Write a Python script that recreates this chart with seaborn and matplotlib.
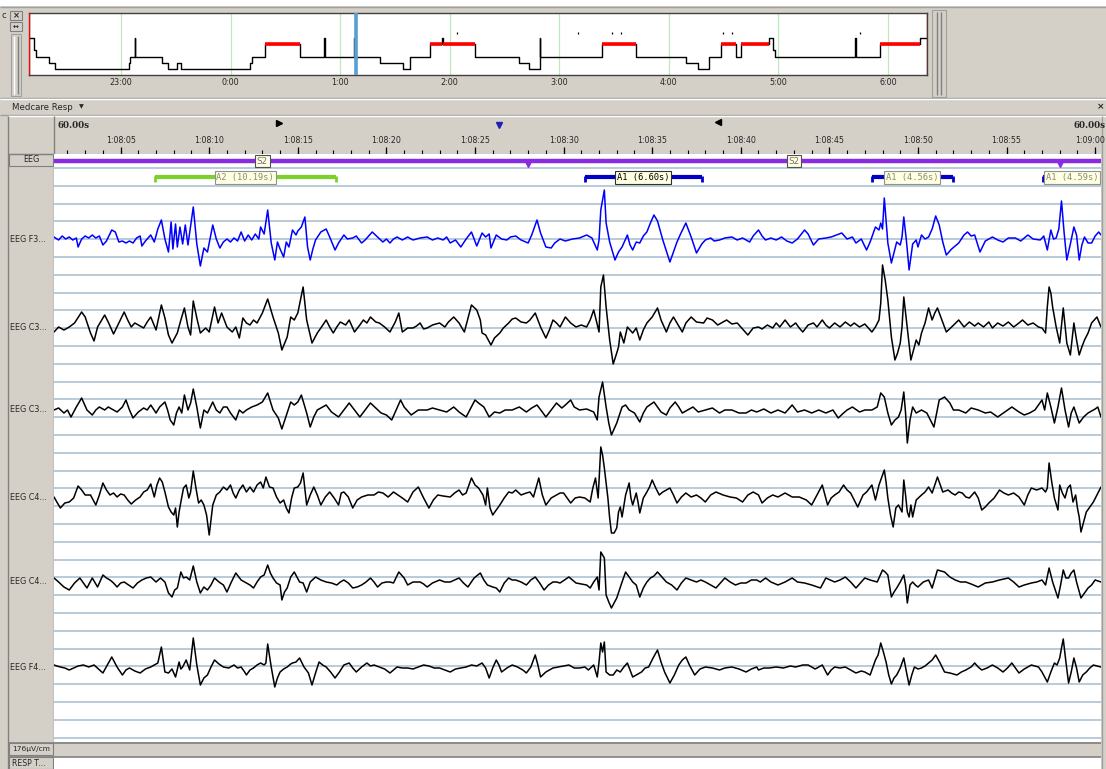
import numpy as np
import matplotlib
matplotlib.use("Agg")
import matplotlib.pyplot as plt
from matplotlib.patches import Rectangle
import seaborn as sns

sns.set_theme(style="white")
plt.rcParams['font.family'] = ['DejaVu Sans']

# ---------------- data ----------------
# hypnogram overview (hours after 22:00) and stage reached at that time
hyp_hours = [0.159, 0.21, 0.225, 0.344, 0.401, 1.073, 1.085, 1.125, 1.132, 1.374, 1.426, 1.513,
             1.545, 2.175, 2.2, 2.319, 2.633, 2.855, 2.862, 3.127, 3.134, 3.36, 3.578, 3.641,
             3.818, 3.933, 3.94, 4.234, 4.634, 4.723, 4.82, 4.827, 5.393, 5.697, 6.16, 6.266,
             6.364, 6.477, 6.613, 6.655, 6.91, 6.953, 6.967, 7.70, 7.707, 7.923, 8.296, 8.356]
hyp_stages = ['W', 'N1', 'N2', 'N3', 'N4', 'N3', 'N2', 'W', 'N2', 'N3', 'N4', 'N3',
              'N4', 'N3', 'N2', 'REM', 'N2', 'W', 'N2', 'W', 'N2', 'N3', 'N4', 'N2',
              'REM', 'W', 'REM', 'N2', 'N3', 'N4', 'W', 'N2', 'REM', 'N2', 'N3', 'N4',
              'N2', 'REM', 'N2', 'REM', 'W', 'N1', 'N2', 'W', 'N2', 'REM', 'W', 'W']
stage_level = {'W': 5, 'REM': 4, 'N1': 3, 'N2': 2, 'N3': 1, 'N4': 0}
hour_ticks = [1, 2, 3, 4, 5, 6, 7, 8]
hour_labels = ["23:00", "0:00", "1:00", "2:00", "3:00", "4:00", "5:00", "6:00"]
event_marks_h = [4.064, 5.167, 5.48, 5.562, 6.49, 6.575, 7.748]
cursor_h = 3.145

# page time axis (seconds after 1:08:00)
time_ticks = [5, 10, 15, 20, 25, 30, 35, 40, 45, 50, 55, 60]
time_labels = ["1:08:05", "1:08:10", "1:08:15", "1:08:20", "1:08:25", "1:08:30",
               "1:08:35", "1:08:40", "1:08:45", "1:08:50", "1:08:55", "1:09:00"]
epoch_stage = ["S2", "S2"]
epoch_start = [-2, 28]
epoch_len = 30
arousal_names = ["A2", "A1", "A1", "A1"]
arousal_start = [6.94, 31.2, 47.4, 57.05]
arousal_dur = [10.19, 6.60, 4.56, 4.59]
arousal_selected = [False, True, False, False]

channels = ["EEG F3...", "EEG C3...", "EEG C3...", "EEG C4...", "EEG C4...", "EEG F4..."]

# traces: (seconds, deflection up in screen px)
F3 = [(1.24,2),(1.5,-1),(1.7,3),(1.9,0),(2.1,2),(2.3,-1),(2.5,1),(2.6,-8),(2.8,0),(3.0,3),(3.2,1),(3.4,4),(3.6,1),(3.8,3),(4.0,-6),(4.2,-2),(4.5,9),(4.7,7),(4.9,-3),(5.1,-2),(5.3,-4),(5.5,-2),(5.7,-4),(5.9,1),(6.1,3),(6.2,-7),(6.4,-2),(6.6,2),(6.7,4),(6.9,-3),(7.1,10),(7.3,19),(7.5,0),(7.7,-13),(7.85,17),(7.95,-10),(8.1,15),(8.2,-8),(8.35,12),(8.5,-5),(8.65,14),(8.8,-6),(9.1,32),(9.3,-5),(9.5,-27),(9.7,-9),(9.9,-13),(10.2,14),(10.4,0),(10.6,-9),(10.8,-3),(11.0,0),(11.2,-3),(11.4,1),(11.6,-2),(11.8,7),(12.0,-2),(12.2,4),(12.4,-1),(12.6,5),(12.8,0),(12.9,12),(13.1,5),(13.3,29),(13.5,-4),(13.7,-21),(13.85,-3),(14.0,-10),(14.2,-18),(14.35,-3),(14.5,-8),(14.7,9),(14.9,4),(15.0,8),(15.2,12),(15.4,22),(15.55,-8),(15.7,-21),(15.85,-10),(16.0,-1),(16.3,7),(16.6,10),(16.8,2),(17.1,-11),(17.3,-4),(17.6,4),(17.8,0),(18.1,1),(18.3,3),(18.6,-4),(18.8,-1),(19.2,7),(19.5,2),(19.8,-3),(20.0,0),(20.2,-4),(20.4,0),(20.6,2),(20.9,-1),(21.2,2),(21.5,-1),(21.9,1),(22.3,2),(22.6,-1),(22.9,1),(23.2,-1),(23.4,2),(23.6,-4),(23.9,-1),(24.2,-8),(24.5,0),(24.8,7),(25.1,-7),(25.4,6),(25.6,2),(25.8,5),(25.9,-9),(26.2,4),(26.5,0),(26.8,-1),(27.0,2),(27.3,3),(27.6,-1),(28.0,-4),(28.2,4),(28.5,19),(28.7,6),(29.0,-8),(29.3,-9),(29.5,-4),(29.8,0),(30.1,-2),(30.5,0),(30.9,1),(31.3,4),(31.6,1),(31.9,-11),(32.0,-1),(32.1,29),(32.3,49),(32.4,16),(32.6,-3),(32.9,-21),(33.1,-13),(33.3,-8),(33.6,4),(33.75,-6),(33.9,-11),(34.1,-3),(34.3,-4),(34.5,3),(34.7,7),(34.9,16),(35.1,24),(35.3,18),(35.6,-1),(36.0,-23),(36.2,-13),(36.4,-3),(36.6,5),(36.9,16),(37.2,2),(37.5,-14),(37.8,-5),(38.0,-1),(38.3,1),(38.5,-2),(38.8,-1),(39.1,1),(39.5,2),(39.8,-1),(40.1,1),(40.5,-3),(40.7,3),(41.0,9),(41.2,3),(41.4,-1),(41.7,1),(42.0,-1),(42.3,2),(42.6,-2),(42.9,-4),(43.2,0),(43.6,9),(43.8,5),(44.1,-6),(44.4,0),(44.8,1),(45.1,2),(45.4,4),(45.7,6),(46.0,0),(46.3,2),(46.5,-4),(46.8,0),(47.1,-11),(47.3,-3),(47.6,12),(47.8,9),(47.9,16),(48.0,10),(48.1,41),(48.3,-4),(48.5,-24),(48.7,-10),(48.8,-3),(49.0,-6),(49.1,2),(49.2,22),(49.35,-2),(49.5,-31),(49.7,-5),(49.9,-1),(50.0,-8),(50.2,4),(50.4,0),(50.6,2),(50.8,10),(51.0,23),(51.2,14),(51.4,-3),(51.6,-16),(51.9,-10),(52.3,-4),(52.6,4),(52.8,7),(53.0,3),(53.2,4),(53.5,-13),(53.8,-2),(54.2,2),(54.5,-1),(54.8,-3),(55.1,1),(55.5,1),(55.8,-2),(56.2,4),(56.5,0),(56.9,-1),(57.1,3),(57.3,-11),(57.5,9),(57.65,0),(57.8,1),(57.95,10),(58.1,38),(58.25,6),(58.4,-21),(58.6,-5),(58.8,12),(58.95,4),(59.1,-21),(59.25,-6),(59.4,2),(59.6,-4),(59.8,-4),(60.0,3),(60.2,7),(60.33,4)]

C3A = [(1.24,-4),(1.5,1),(1.8,-2),(2.1,1),(2.4,5),(2.8,16),(3.0,11),(3.3,-5),(3.5,-13),(3.7,1),(4.1,13),(4.3,6),(4.6,-6),(4.9,5),(5.2,16),(5.4,8),(5.6,1),(5.8,5),(6.0,3),(6.3,0),(6.5,6),(6.7,11),(7.0,-2),(7.3,23),(7.5,10),(7.7,-7),(7.9,-15),(8.2,-5),(8.4,8),(8.6,20),(8.8,1),(8.95,-7),(9.1,27),(9.3,10),(9.5,-5),(9.8,0),(10.0,-4),(10.3,21),(10.5,5),(10.7,15),(11.0,1),(11.3,-4),(11.5,1),(11.7,-10),(11.9,10),(12.1,5),(12.3,3),(12.5,8),(12.7,5),(13.0,15),(13.3,29),(13.6,11),(13.9,-5),(14.1,-22),(14.4,-9),(14.6,11),(14.8,8),(15.0,15),(15.3,41),(15.5,8),(15.8,-15),(16.1,-5),(16.3,0),(16.6,8),(16.8,1),(17.0,-5),(17.2,1),(17.4,6),(17.7,3),(17.9,8),(18.2,-4),(18.5,3),(18.7,8),(18.9,5),(19.1,11),(19.4,6),(19.6,5),(19.9,1),(20.2,-4),(20.5,6),(20.7,15),(20.9,-4),(21.2,0),(21.5,0),(21.7,2),(21.9,5),(22.1,-1),(22.3,0),(22.6,3),(23.0,5),(23.3,1),(23.5,6),(23.8,11),(24.1,5),(24.4,-4),(24.8,23),(25.1,18),(25.3,8),(25.4,-5),(25.6,-7),(25.9,-17),(26.1,-10),(26.4,-5),(26.6,0),(26.9,5),(27.1,9),(27.3,10),(27.6,6),(27.9,5),(28.1,8),(28.4,15),(28.7,1),(29.0,-10),(29.2,-2),(29.4,8),(29.6,5),(29.8,1),(30.1,11),(30.4,5),(30.7,1),(31.0,3),(31.3,1),(31.5,8),(31.7,18),(32.0,-4),(32.1,41),(32.25,53),(32.4,21),(32.6,-12),(32.8,-36),(33.0,-25),(33.1,-19),(33.2,-4),(33.4,-15),(33.6,1),(33.9,-5),(34.1,0),(34.3,-12),(34.5,-2),(34.7,5),(35.0,11),(35.3,20),(35.5,8),(35.8,-4),(36.0,5),(36.2,11),(36.4,5),(36.7,-4),(36.9,5),(37.2,11),(37.5,6),(37.9,5),(38.1,10),(38.4,8),(38.7,3),(39.0,6),(39.2,8),(39.5,4),(39.8,5),(40.0,1),(40.2,-3),(40.4,-7),(40.7,0),(41.0,1),(41.2,-1),(41.5,3),(41.8,0),(42.0,5),(42.2,1),(42.5,8),(42.8,1),(43.1,5),(43.3,0),(43.5,-4),(43.8,3),(44.1,5),(44.3,1),(44.6,8),(44.8,3),(45.0,0),(45.3,5),(45.6,1),(45.9,6),(46.2,2),(46.4,5),(46.7,1),(47.0,4),(47.2,0),(47.4,-4),(47.6,1),(47.8,8),(47.9,25),(48.0,63),(48.15,48),(48.3,28),(48.5,-9),(48.7,-32),(48.85,-25),(49.0,-15),(49.1,1),(49.2,31),(49.3,15),(49.4,-2),(49.6,-32),(49.75,-22),(49.9,-12),(50.05,-17),(50.2,-5),(50.4,5),(50.6,20),(50.8,8),(50.95,15),(51.1,20),(51.35,8),(51.6,-4),(51.9,1),(52.3,8),(52.6,1),(52.9,6),(53.2,2),(53.4,5),(53.7,1),(54.0,6),(54.2,0),(54.5,5),(54.8,2),(55.1,6),(55.4,1),(55.7,5),(55.9,8),(56.2,3),(56.5,5),(56.8,1),(57.0,0),(57.2,-5),(57.3,21),(57.4,41),(57.5,35),(57.6,21),(57.8,1),(58.0,-15),(58.2,20),(58.4,-15),(58.6,-27),(58.8,5),(58.95,-12),(59.1,-27),(59.25,-19),(59.4,-12),(59.6,-5),(59.8,5),(60.1,11),(60.33,1)]

C3B = [(1.24,0),(1.5,2),(1.8,-3),(2.0,0),(2.2,-7),(2.5,3),(2.8,12),(3.1,0),(3.4,-5),(3.6,0),(3.8,3),(4.1,0),(4.3,3),(4.6,0),(4.8,-2),(5.1,3),(5.3,10),(5.5,0),(5.7,-8),(6.0,-2),(6.3,2),(6.5,0),(6.7,5),(7.0,-3),(7.2,3),(7.5,8),(7.65,0),(7.8,-10),(8.0,-15),(8.15,-3),(8.3,3),(8.45,-3),(8.6,15),(8.8,0),(8.95,7),(9.1,21),(9.3,3),(9.5,-18),(9.7,0),(9.9,-3),(10.2,8),(10.4,0),(10.6,-3),(10.8,3),(11.0,3),(11.2,-3),(11.5,-10),(11.7,0),(11.9,-3),(12.1,0),(12.4,3),(12.7,5),(13.0,8),(13.3,17),(13.6,0),(13.9,-8),(14.1,-19),(14.4,-3),(14.6,8),(14.8,5),(15.0,8),(15.2,15),(15.5,-3),(15.7,-17),(15.9,-7),(16.1,0),(16.4,3),(16.6,5),(16.9,-2),(17.3,-7),(17.6,0),(17.9,7),(18.2,0),(18.5,-7),(18.8,0),(19.1,7),(19.4,2),(19.7,-3),(20.0,-5),(20.3,-10),(20.55,0),(20.8,10),(21.0,3),(21.4,-5),(21.8,0),(22.3,0),(22.6,2),(23.0,0),(23.4,-2),(23.8,3),(24.1,-2),(24.5,-7),(25.0,10),(25.2,7),(25.5,3),(25.8,-7),(26.1,-2),(26.4,-3),(26.7,0),(27.1,0),(27.5,3),(27.9,-2),(28.2,2),(28.5,5),(28.8,-2),(29.0,-7),(29.3,0),(29.6,7),(29.9,2),(30.1,5),(30.4,10),(30.6,3),(30.9,0),(31.3,1),(31.7,-2),(31.9,-10),(32.0,13),(32.2,28),(32.4,3),(32.55,-13),(32.7,-25),(33.0,-13),(33.3,3),(33.5,5),(33.7,0),(34.0,-3),(34.3,-12),(34.5,-3),(34.7,3),(35.1,8),(35.3,3),(35.5,-2),(35.8,-5),(36.0,2),(36.3,8),(36.5,3),(36.7,-3),(37.0,0),(37.3,3),(37.6,-2),(38.0,0),(38.4,2),(38.8,-3),(39.1,0),(39.5,0),(39.9,-3),(40.3,-3),(40.6,0),(40.9,-2),(41.3,1),(41.7,-3),(42.1,0),(42.5,-3),(42.9,5),(43.2,-2),(43.6,0),(44.0,-3),(44.4,0),(44.8,-3),(45.2,0),(45.5,-8),(45.8,-3),(46.0,0),(46.3,3),(46.7,-2),(47.0,0),(47.4,0),(47.7,3),(47.9,17),(48.1,13),(48.3,-3),(48.5,-15),(48.7,-10),(48.9,-7),(49.05,0),(49.2,18),(49.3,-3),(49.4,-33),(49.55,-10),(49.7,3),(49.9,-3),(50.2,0),(50.5,-3),(50.7,-10),(50.9,-17),(51.2,10),(51.5,13),(51.8,7),(52.0,0),(52.3,0),(52.7,-3),(53.0,2),(53.4,0),(53.8,-3),(54.1,-2),(54.5,-7),(54.9,-2),(55.3,3),(55.7,-2),(56.0,-5),(56.3,-3),(56.6,0),(57.0,10),(57.15,0),(57.3,17),(57.5,3),(57.7,-13),(57.9,3),(58.1,22),(58.3,0),(58.5,-17),(58.65,-3),(58.8,3),(59.1,-13),(59.35,-7),(59.6,-3),(60.0,1),(60.15,3),(60.33,-7)]

C4A = [(1.24,0),(1.4,-5),(1.6,-11),(1.85,-6),(2.1,-5),(2.35,-1),(2.6,11),(2.8,7),(3.0,2),(3.3,2),(3.45,-3),(3.6,-8),(3.8,2),(4.0,14),(4.2,7),(4.4,2),(4.6,4),(4.8,0),(5.0,3),(5.2,2),(5.4,-3),(5.6,-7),(5.85,-3),(6.1,0),(6.3,5),(6.5,7),(6.7,13),(6.9,0),(7.05,12),(7.2,19),(7.35,15),(7.5,5),(7.7,-10),(7.85,-15),(8.0,-18),(8.1,-11),(8.2,-30),(8.3,-15),(8.4,-5),(8.55,9),(8.7,12),(8.85,-1),(8.95,5),(9.1,26),(9.25,9),(9.4,-6),(9.55,-3),(9.7,-8),(9.85,-18),(10.0,-38),(10.1,-23),(10.2,-8),(10.4,2),(10.6,5),(10.8,10),(11.0,7),(11.2,12),(11.35,4),(11.5,-1),(11.7,7),(11.9,12),(12.1,5),(12.3,10),(12.5,5),(12.7,12),(12.9,15),(13.05,9),(13.2,20),(13.4,10),(13.6,9),(13.8,0),(14.0,-6),(14.2,-3),(14.35,-11),(14.5,-16),(14.65,-1),(14.8,9),(15.0,10),(15.15,14),(15.3,24),(15.5,-8),(15.7,2),(15.9,10),(16.1,2),(16.3,-8),(16.55,0),(16.8,5),(17.05,-1),(17.3,-8),(17.45,4),(17.6,5),(17.85,0),(18.1,-11),(18.35,-3),(18.6,0),(18.95,2),(19.3,2),(19.55,5),(19.8,4),(20.1,0),(20.4,5),(20.65,2),(20.9,-1),(21.2,-5),(21.5,5),(21.8,10),(22.1,-1),(22.4,-11),(22.65,-3),(22.9,2),(23.2,1),(23.6,0),(23.85,4),(24.1,7),(24.3,2),(24.5,4),(24.8,19),(25.0,12),(25.2,9),(25.45,2),(25.6,-8),(25.7,9),(25.85,-11),(26.0,-18),(26.2,-13),(26.4,-8),(26.65,-1),(26.9,5),(27.1,4),(27.3,7),(27.6,2),(27.9,4),(28.1,5),(28.3,0),(28.6,19),(28.8,2),(29.0,-8),(29.3,-1),(29.6,2),(29.8,4),(30.0,4),(30.2,-1),(30.4,-6),(30.65,-1),(30.9,0),(31.2,-1),(31.5,-5),(31.65,9),(31.8,19),(31.95,-1),(32.1,50),(32.2,42),(32.3,29),(32.5,-1),(32.6,-21),(32.7,-36),(32.85,-36),(33.0,-31),(33.1,-15),(33.2,-10),(33.3,-20),(33.5,2),(33.7,14),(33.8,-1),(33.9,-8),(34.1,4),(34.2,-5),(34.3,-16),(34.5,-1),(34.7,5),(34.85,10),(35.0,17),(35.2,9),(35.4,2),(35.6,5),(35.8,7),(36.0,9),(36.2,2),(36.4,-6),(36.65,0),(36.9,4),(37.2,0),(37.5,2),(37.75,-1),(38.0,-5),(38.3,2),(38.6,5),(39.0,2),(39.4,0),(39.75,-1),(40.1,-5),(40.4,2),(40.7,5),(41.0,2),(41.2,-6),(41.5,-1),(41.8,2),(42.1,0),(42.5,4),(42.9,0),(43.3,0),(43.7,-3),(44.0,-8),(44.3,2),(44.6,12),(44.9,-8),(45.1,-1),(45.3,2),(45.55,5),(45.8,12),(46.0,7),(46.2,4),(46.6,-10),(46.9,2),(47.1,5),(47.4,12),(47.6,-3),(47.8,12),(47.9,17),(48.1,27),(48.2,15),(48.3,-1),(48.45,-18),(48.6,-30),(48.75,-11),(48.9,-8),(49.1,-15),(49.2,17),(49.3,2),(49.4,-15),(49.5,-20),(49.6,-8),(49.7,-20),(49.9,-3),(50.2,2),(50.4,5),(50.6,10),(50.8,4),(51.1,20),(51.4,5),(51.7,7),(51.9,4),(52.1,2),(52.3,5),(52.5,4),(52.7,0),(52.9,-1),(53.2,5),(53.4,-1),(53.6,-13),(53.8,-10),(54.0,-6),(54.3,-1),(54.6,7),(54.85,4),(55.1,2),(55.4,4),(55.7,0),(56.0,-8),(56.2,2),(56.4,9),(56.7,7),(57.0,9),(57.2,5),(57.3,9),(57.4,34),(57.55,15),(57.7,-1),(57.9,-13),(58.0,12),(58.15,4),(58.3,-1),(58.45,9),(58.6,12),(58.75,-5),(58.9,2),(59.0,-11),(59.1,-20),(59.2,-35),(59.35,-25),(59.5,-15),(59.7,-10),(59.9,-5),(60.1,2),(60.33,10)]

C4B = [(1.24,4),(1.5,0),(1.8,-5),(2.1,-8),(2.4,-1),(2.7,4),(2.9,-1),(3.1,-6),(3.4,4),(3.7,-5),(4.0,7),(4.2,4),(4.4,2),(4.6,-1),(4.8,-5),(5.0,-1),(5.2,0),(5.45,-3),(5.7,-6),(5.95,-1),(6.2,2),(6.45,4),(6.7,5),(7.0,0),(7.25,4),(7.5,0),(7.7,-11),(7.9,-15),(8.05,-8),(8.2,-6),(8.4,10),(8.55,4),(8.7,5),(8.9,2),(9.1,16),(9.3,0),(9.5,-11),(9.7,-5),(9.9,-8),(10.1,-3),(10.3,4),(10.55,0),(10.8,-3),(11.0,-10),(11.25,0),(11.5,9),(11.8,2),(12.1,-1),(12.3,-3),(12.5,-6),(12.7,0),(12.9,5),(13.1,7),(13.3,17),(13.45,9),(13.6,4),(13.8,-1),(14.0,-3),(14.1,-18),(14.25,-10),(14.4,-6),(14.6,5),(14.8,10),(15.1,0),(15.3,-1),(15.5,-10),(15.7,0),(16.0,5),(16.3,2),(16.6,0),(16.9,-1),(17.2,-3),(17.4,0),(17.6,2),(17.85,-1),(18.1,-6),(18.35,-5),(18.6,-3),(18.85,0),(19.1,4),(19.3,0),(19.5,-5),(19.75,-1),(20.0,0),(20.2,0),(20.4,-1),(20.7,10),(21.0,4),(21.2,-3),(21.5,0),(21.9,0),(22.1,-2),(22.3,-5),(22.6,-1),(23.0,2),(23.3,0),(23.6,0),(23.85,2),(24.1,4),(24.35,-1),(24.6,-5),(24.95,4),(25.3,9),(25.5,2),(25.7,-3),(26.0,-5),(26.2,-6),(26.4,-10),(26.65,-1),(26.9,4),(27.1,2),(27.3,2),(27.6,0),(27.9,-3),(28.15,2),(28.4,5),(28.65,-1),(28.9,-8),(29.15,-3),(29.4,0),(29.6,0),(29.8,-1),(30.05,2),(30.3,5),(30.5,2),(30.7,-1),(31.0,-2),(31.3,-3),(31.5,-6),(31.7,0),(31.9,5),(32.0,-8),(32.1,30),(32.3,24),(32.4,-13),(32.55,-20),(32.7,-26),(32.85,-21),(33.0,-16),(33.15,-8),(33.3,0),(33.5,10),(33.7,5),(33.9,0),(34.1,-3),(34.3,-15),(34.5,-6),(34.7,0),(34.9,4),(35.1,6),(35.3,10),(35.55,5),(35.8,0),(36.1,-3),(36.4,-8),(36.65,-1),(36.9,4),(37.2,2),(37.5,0),(37.75,2),(38.0,0),(38.3,-3),(38.6,-6),(38.85,-1),(39.1,4),(39.4,0),(39.7,-3),(40.0,-1),(40.3,-1),(40.6,2),(40.9,2),(41.1,0),(41.4,4),(41.7,0),(42.1,-3),(42.5,0),(42.9,4),(43.2,0),(43.6,-1),(44.0,-3),(44.5,-6),(44.8,4),(45.05,2),(45.3,0),(45.6,2),(45.9,5),(46.2,0),(46.5,-6),(46.75,-1),(47.0,4),(47.3,2),(47.7,0),(48.0,12),(48.15,10),(48.3,7),(48.5,-15),(48.65,-10),(48.8,-6),(49.0,0),(49.2,7),(49.3,-3),(49.4,-21),(49.55,-3),(49.7,0),(49.85,-3),(50.0,-5),(50.3,0),(50.6,2),(50.8,-6),(51.1,12),(51.3,11),(51.5,10),(51.8,5),(52.1,2),(52.4,0),(52.7,0),(53.0,-2),(53.4,-5),(53.8,-1),(54.2,0),(54.6,2),(55.1,4),(55.4,0),(55.7,-5),(56.0,-3),(56.4,-1),(56.7,0),(57.0,2),(57.2,-3),(57.4,14),(57.6,0),(57.9,-16),(58.05,-3),(58.2,12),(58.35,4),(58.5,4),(58.65,9),(58.8,12),(58.95,0),(59.2,-16),(59.4,-11),(59.6,-6),(59.8,-3),(60.0,2),(60.33,0)]

F4 = [(1.24,2),(1.4,1),(1.6,0),(1.85,-1),(2.1,-3),(2.35,-1),(2.6,1),(2.9,2),(3.2,0),(3.5,2),(3.75,-2),(4.0,-6),(4.25,2),(4.5,10),(4.8,0),(5.1,-8),(5.3,-3),(5.5,-1),(5.8,-4),(6.1,-6),(6.4,-2),(6.7,0),(6.9,2),(7.1,4),(7.3,20),(7.5,-5),(7.7,-6),(7.9,-2),(8.1,-10),(8.3,5),(8.4,-2),(8.5,0),(8.7,7),(8.9,-3),(9.1,29),(9.3,2),(9.5,-18),(9.7,-11),(9.9,-8),(10.1,0),(10.3,7),(10.55,3),(10.8,0),(11.1,-1),(11.4,2),(11.6,-1),(11.8,0),(12.0,-5),(12.1,-8),(12.3,-3),(12.5,-1),(12.7,2),(12.9,4),(13.1,2),(13.2,4),(13.3,23),(13.5,0),(13.7,-20),(13.85,-11),(14.0,-5),(14.2,-2),(14.4,0),(14.6,3),(14.7,4),(14.9,5),(15.1,9),(15.35,0),(15.6,-6),(15.8,-18),(16.0,-6),(16.2,5),(16.4,2),(16.6,0),(16.85,-5),(17.1,-11),(17.35,-5),(17.6,2),(17.9,4),(18.1,-1),(18.3,-5),(18.6,0),(18.9,4),(19.1,1),(19.3,2),(19.6,0),(19.9,-2),(20.2,-6),(20.4,-3),(20.6,0),(20.9,-1),(21.2,-1),(21.5,-2),(21.8,0),(22.1,2),(22.4,1),(22.7,-1),(23.0,-1),(23.3,-3),(23.6,-5),(23.9,-2),(24.2,-1),(24.5,0),(24.8,2),(25.1,1),(25.4,4),(25.6,-1),(25.8,-11),(26.0,-1),(26.2,7),(26.35,2),(26.5,-5),(26.8,-1),(27.1,2),(27.4,0),(27.7,-3),(27.9,-6),(28.15,0),(28.4,12),(28.55,2),(28.7,-10),(29.0,-5),(29.4,-1),(29.7,0),(30.0,1),(30.3,2),(30.6,-1),(30.9,-1),(31.2,0),(31.4,-3),(31.7,2),(31.9,-10),(32.0,5),(32.1,24),(32.2,15),(32.3,25),(32.4,-5),(32.6,-8),(32.8,-8),(33.0,-3),(33.2,-5),(33.4,0),(33.6,4),(33.75,-3),(33.9,-10),(34.1,-8),(34.4,-5),(34.6,-1),(34.8,0),(35.05,9),(35.3,17),(35.5,5),(35.7,-5),(36.0,-16),(36.25,-8),(36.5,2),(36.7,7),(36.9,10),(37.1,2),(37.4,-8),(37.7,-2),(38.0,0),(38.4,-1),(38.8,-3),(39.1,-1),(39.5,0),(39.9,-2),(40.3,-5),(40.6,-2),(40.9,0),(41.0,-3),(41.3,-1),(41.6,-1),(42.0,0),(42.4,-1),(42.8,1),(43.1,0),(43.5,2),(43.8,2),(44.2,-2),(44.6,2),(44.9,-8),(45.1,-3),(45.3,0),(45.6,-1),(45.9,0),(46.2,-3),(46.5,-6),(46.8,-4),(47.0,-5),(47.3,-8),(47.6,7),(47.75,12),(47.9,24),(48.05,15),(48.2,5),(48.35,-8),(48.5,-17),(48.65,-11),(48.8,-8),(49.0,-1),(49.2,9),(49.35,-5),(49.5,-18),(49.65,-8),(49.8,0),(50.0,-2),(50.2,-1),(50.4,1),(50.6,4),(50.8,7),(51.0,12),(51.25,4),(51.5,-5),(51.8,-6),(52.2,-8),(52.45,-5),(52.7,-3),(53.0,0),(53.2,4),(53.4,0),(53.6,-3),(53.9,-1),(54.2,2),(54.5,-1),(54.8,-5),(55.05,-1),(55.3,4),(55.5,-1),(55.7,-6),(56.0,-2),(56.4,2),(56.8,0),(57.0,-5),(57.15,-10),(57.3,-15),(57.5,-5),(57.7,4),(57.85,2),(58.0,9),(58.1,19),(58.2,28),(58.35,5),(58.5,-16),(58.65,-5),(58.8,9),(58.95,-1),(59.1,-15),(59.3,-8),(59.5,-5),(59.7,-1),(59.9,2),(60.1,1),(60.33,0)]

traces = [F3, C3A, C3B, C4A, C4B, F4]

# ---------------- layout / style ----------------
W, H = 1106, 769
GREY = '#d4d0c8'
DARK = '#808080'
GRID = '#b3c7d7'
trace_base = [239, 328, 410, 497, 582, 667]
trace_color = ['#0000ff', 'black', 'black', 'black', 'black', 'black']
T0, T1 = 1.24, 60.33


def rect(x0, y0, x1, y1):
    return [x0 / W, 1 - y1 / H, (x1 - x0) / W, (y1 - y0) / H]


fig = plt.figure(figsize=(W / 100, H / 100), dpi=100, facecolor=GREY)

# background / chrome in pixel coordinates
bg = fig.add_axes([0, 0, 1, 1], zorder=0)
bg.set_xlim(0, W)
bg.set_ylim(H, 0)
bg.axis('off')


def box(x0, y0, x1, y1, fc, ec='none', lw=0.8, z=1):
    bg.add_patch(Rectangle((x0, y0), x1 - x0, y1 - y0, facecolor=fc, edgecolor=ec, lw=lw, zorder=z))


def hline(y, x0, x1, c, lw=1.0):
    bg.plot([x0, x1], [y, y], color=c, lw=lw, solid_capstyle='butt', zorder=2)


def vline(x, y0, y1, c, lw=1.0):
    bg.plot([x, x], [y0, y1], color=c, lw=lw, solid_capstyle='butt', zorder=2)


box(0, 0, W, 6, 'white')
hline(6.5, 0, W, '#a0a0a0')
# small buttons and slider at the top left
box(10, 11, 22, 20, GREY, DARK)
bg.text(16, 15.5, '×', fontsize=6, ha='center', va='center', fontweight='bold')
box(10, 22, 22, 31, GREY, DARK)
bg.text(16, 26.5, '↔', fontsize=5, ha='center', va='center', fontweight='bold')
box(11, 34, 21, 96, GREY, '#a0a0a0')
vline(14, 36, 94, 'white')
vline(18, 36, 94, DARK)
bg.text(2, 15, 'c', fontsize=6, ha='left', va='center')
# scrollbar right of the overview
box(932, 10, 946, 97, GREY, '#a0a0a0')
vline(937, 12, 95, DARK)
vline(941, 12, 95, DARK)
hline(97.5, 0, W, '#a0a0a0')
hline(99, 0, W, 'white')
bg.text(12, 107, 'Medcare Resp', fontsize=6.2, ha='left', va='center')
bg.text(81, 107, '▼', fontsize=4.5, ha='center', va='center')
bg.text(1104, 107, '×', fontsize=6.5, ha='right', va='center', fontweight='bold')
hline(115, 0, W, '#a0a0a0')
hline(116.2, 8, W, 'white')
# left label column
vline(8, 116, H, DARK)
vline(53.5, 116, 742, DARK)
hline(153.5, 8, 54, DARK)
box(9, 154, 53, 166, GREY, DARK)
bg.text(31, 160, 'EEG', fontsize=5.8, ha='center', va='center')
for name, yb in zip(channels, trace_base):
    bg.text(10, yb, name, fontsize=5.8, ha='left', va='center')
hline(742.5, 8, 1101, DARK, 1.2)
box(9, 743, 53, 755, GREY, DARK)
bg.text(31, 749, '176µV/cm', fontsize=5.4, ha='center', va='center')
hline(756.5, 8, 1101, DARK, 1.2)
box(9, 757, 53, 769, GREY, DARK)
bg.text(12, 764, 'RESP T...', fontsize=5.6, ha='left', va='center')
box(54, 757, 1101, 769, 'white')
# right scrollbar of the page
box(1101, 116, W, H, GREY)
vline(1101.5, 116, H, '#a0a0a0')
# header markers
bg.text(57, 125, '60.00s', fontsize=6.3, fontweight='bold', family='DejaVu Serif', ha='left', va='center')
bg.text(1105, 125, '60.00s', fontsize=6.3, fontweight='bold', family='DejaVu Serif', ha='right', va='center')
bg.plot([279], [123], marker='>', color='black', ms=4, zorder=3)
bg.plot([499], [125], marker='v', color='#2020b0', ms=4.5, zorder=3)
bg.plot([718], [122], marker='<', color='black', ms=4, zorder=3)

# ---------------- overview hypnogram ----------------
axh = fig.add_axes(rect(28.8, 12.7, 927, 75), zorder=2)
axh.set_facecolor('white')
levels = [stage_level[s] for s in hyp_stages]
for hx in hour_ticks:
    axh.axvline(hx, color='#bfe8bf', lw=0.9, zorder=1)
sns.lineplot(x=hyp_hours, y=levels, ax=axh, color='black', linewidth=1.0,
             drawstyle='steps-post', estimator=None, sort=False, zorder=3)
for i, s in enumerate(hyp_stages[:-1]):
    if s == 'REM':
        axh.hlines(stage_level['REM'], hyp_hours[i], hyp_hours[i + 1], color='#ff0000', lw=2.6, zorder=4)
for ex in event_marks_h:
    axh.vlines(ex, 5.65, 5.95, color='black', lw=0.9, zorder=3)
axh.axvline(cursor_h, color='#5a9fd4', lw=2.6, zorder=5)
axh.axvline(hyp_hours[0], color='red', lw=1.0, zorder=5)
axh.axvline(hyp_hours[-1], color='red', lw=1.0, zorder=5)
axh.set_xlim(hyp_hours[0], hyp_hours[-1])
axh.set_ylim(-0.97, 9.08)
axh.set_xticks(hour_ticks)
axh.set_xticklabels(hour_labels, fontsize=5.8)
axh.set_yticks([])
axh.tick_params(axis='x', length=0, pad=2.5)
axh.set_xlabel('')
axh.set_ylabel('')
for sp in axh.spines.values():
    sp.set_color('#404040')
    sp.set_linewidth(1.0)

# ---------------- page header time axis ----------------
axt = fig.add_axes(rect(54, 116, 1101, 153.5), zorder=2)
axt.set_xlim(T0, T1)
axt.set_ylim(153.5, 116)
axt.axis('off')
sec_ticks = np.arange(2, 61)
axt.vlines(sec_ticks, 149.5, 153.5, color='black', lw=0.8)
axt.vlines(time_ticks, 146.5, 153.5, color='black', lw=0.9)
for tx, lab in zip(time_ticks, time_labels):
    last = tx == time_ticks[-1]
    axt.text(T1 + 0.2 if last else tx, 140.5, lab, fontsize=5.7,
             ha='right' if last else 'center', va='center', clip_on=False)

# ---------------- traces ----------------
ax = fig.add_axes(rect(54, 153.5, 1101, 742), zorder=2)
ax.set_facecolor('white')
ax.set_xlim(T0, T1)
ax.set_ylim(742, 153.5)
ax.set_xticks([])
ax.set_yticks([])
for sp in ax.spines.values():
    sp.set_visible(False)

for gy in 185.7 + 17.8 * np.arange(32):
    ax.axhline(gy, color=GRID, lw=1.3, zorder=1)
ax.axhline(168.3, color=GRID, lw=1.3, zorder=1)

# stage band
ax.hlines(161, T0, T1, color='#8a2be2', lw=3.2, zorder=3)
for es in epoch_start:
    eb = es + epoch_len
    ax.plot([eb], [163.5], marker='v', color='#8a2be2', ms=4, zorder=3)
for lab, es in zip(epoch_stage, epoch_start):
    ax.text(es + epoch_len / 2, 161, lab, fontsize=6.3, color='#707070', ha='center', va='center',
            zorder=5, bbox=dict(boxstyle='square,pad=0.2', fc='#ffffe1', ec='#505050', lw=0.8))

# arousal brackets
for name, st, du, sel in zip(arousal_names, arousal_start, arousal_dur, arousal_selected):
    col = '#7ad12a' if name == 'A2' else '#0000c8'
    en = st + du
    ax.hlines(177, st, en, color=col, lw=3.0, zorder=3)
    ax.vlines([st, en], 176, 182, color=col, lw=2.0, zorder=3)
    runs_off = en > T1
    ax.text(T1 - 0.15 if runs_off else (st + en) / 2, 177.5, f"{name} ({du:.2f}s)", fontsize=6.3,
            color='black' if sel else '#8a8a7a', ha='right' if runs_off else 'center', va='center',
            zorder=5, family='DejaVu Sans Mono',
            bbox=dict(boxstyle='square,pad=0.2', fc='#ffffe1', ec='#303030' if sel else '#909090', lw=0.8))

for data, yb, col in zip(traces, trace_base, trace_color):
    tt = np.array([p[0] for p in data])
    vv = np.array([p[1] for p in data])
    sns.lineplot(x=tt, y=yb - vv, ax=ax, color=col, linewidth=1.1,
                 estimator=None, sort=False, zorder=4)
ax.set_xlabel('')
ax.set_ylabel('')

fig.savefig('out.png', dpi=100, facecolor=GREY)
